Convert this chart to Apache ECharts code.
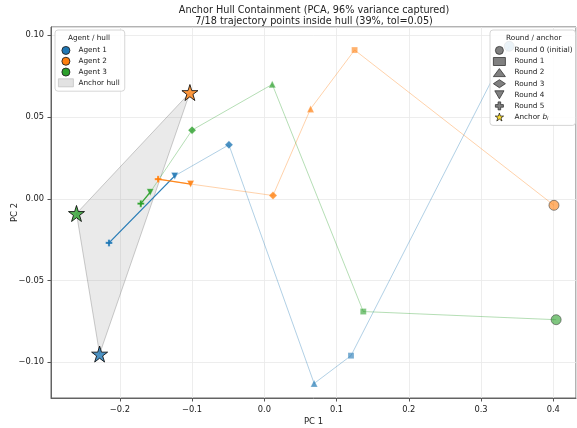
<!DOCTYPE html>
<html>
<head>
<meta charset="utf-8">
<script src="https://cdn.jsdelivr.net/npm/echarts@6/dist/echarts.min.js"></script>
<style>html,body{margin:0;padding:0;background:#fff}#c{width:577px;height:428px}</style>
</head>
<body>
<div id="c"></div>
<script>
// ---- data ----
const agentNames = ['Agent 1', 'Agent 2', 'Agent 3'];
const roundNames = ['Round 0 (initial)', 'Round 1', 'Round 2', 'Round 3', 'Round 4', 'Round 5'];
const agent1PC1 = [0.339, 0.120, 0.069, -0.049, -0.124, -0.215];
const agent1PC2 = [0.0933, -0.096, -0.113, 0.033, 0.014, -0.027];
const agent2PC1 = [0.401, 0.125, 0.064, 0.012, -0.102, -0.147];
const agent2PC2 = [-0.004, 0.091, 0.055, 0.002, 0.009, 0.012];
const agent3PC1 = [0.404, 0.137, 0.011, -0.100, -0.158, -0.171];
const agent3PC2 = [-0.074, -0.069, 0.070, 0.042, 0.004, -0.003];
const anchorPC1 = [-0.228, -0.103, -0.260];
const anchorPC2 = [-0.095, 0.065, -0.009];
const anchorName = 'Anchor b_i';
const hullName = 'Anchor hull';
const titleLines = ['Anchor Hull Containment (PCA, 96% variance captured)', '7/18 trajectory points inside hull (39%, tol=0.05)'];

// ---- styling ----
const FONT = 'DejaVu Sans';
const agentColors = ['#1f77b4', '#ff7f0e', '#2ca02c'];
const agentRGB = ['31,119,180', '255,127,14', '44,160,44'];
const STAR = 'path://M50,0 L61.23,34.55 L97.55,34.55 L68.16,55.9 L79.39,90.45 L50,69.1 L20.61,90.45 L31.84,55.9 L2.45,34.55 L38.77,34.55 Z';
const PLUS = 'path://M34,0 H66 V34 H100 V66 H66 V100 H34 V66 H0 V34 H34 Z';
const TRIDOWN = 'path://M0,0 L100,0 L50,87 Z';
const roundSymbols = ['circle', 'rect', 'triangle', 'diamond', TRIDOWN, PLUS];
const roundSizes = [10, 6, 7, 8, 7, 7];
const roundOpacity = [0.6, 0.6, 0.7, 0.8, 0.9, 1.0];

const xs = [agent1PC1, agent2PC1, agent3PC1];
const ys = [agent1PC2, agent2PC2, agent3PC2];
const fmt = (v, d) => v.toFixed(d).replace('-', '\u2212');

const series = [];
// hull polygon
series.push({
  name: hullName, type: 'custom', z: 1,
  data: anchorPC1.map((x, i) => [x, anchorPC2[i]]),
  renderItem: function (params, api) {
    if (params.dataIndex !== 0) return null;
    const pts = anchorPC1.map((x, i) => api.coord([x, anchorPC2[i]]));
    return { type: 'polygon', shape: { points: pts },
      style: { fill: 'rgba(150,150,150,0.2)', stroke: 'rgba(128,128,128,0.4)', lineWidth: 1 } };
  }
});
// trajectories
for (let a = 0; a < 3; a++) {
  const pts = xs[a].map((x, r) => [x, ys[a][r]]);
  series.push({
    name: agentNames[a], type: 'line', z: 2, symbol: 'none', silent: true,
    data: pts,
    lineStyle: { color: 'rgba(' + agentRGB[a] + ',0.35)', width: 1 },
    itemStyle: { color: agentColors[a] },
    markLine: {
      silent: true, symbol: ['none', 'arrow'], symbolSize: [0, 6],
      lineStyle: { color: agentColors[a], width: 1.3, type: 'solid', opacity: 0.9 },
      label: { show: false },
      data: [[{ coord: pts[4] }, { coord: pts[5] }]]
    }
  });
}
// round markers
for (let r = 0; r < roundNames.length; r++) {
  series.push({
    name: roundNames[r], type: 'scatter', z: 3,
    symbol: roundSymbols[r], symbolSize: roundSizes[r],
    itemStyle: { opacity: roundOpacity[r],
      borderColor: r === 0 ? '#444' : 'rgba(255,255,255,0.7)', borderWidth: r === 0 ? 1 : 0.5 },
    data: [0, 1, 2].map(a => ({ value: [xs[a][r], ys[a][r]], itemStyle: { color: agentColors[a] } }))
  });
}
// anchors
series.push({
  name: anchorName, type: 'scatter', z: 4, symbol: STAR, symbolSize: 16,
  itemStyle: { borderColor: '#000', borderWidth: 1 },
  data: anchorPC1.map((x, a) => ({ value: [x, anchorPC2[a]], itemStyle: { color: agentColors[a] } }))
});

const legendBox = {
  orient: 'vertical', backgroundColor: 'rgba(255,255,255,0.85)', borderColor: '#cccccc',
  borderWidth: 0.8, borderRadius: 3, itemHeight: 8, selectedMode: false,
  textStyle: { fontFamily: FONT, fontSize: 7.3, color: '#222', lineHeight: 8 }
};

const option = {
  animation: false,
  backgroundColor: '#fff',
  title: {
    text: titleLines.join('\n'), left: 314, top: 5, padding: 0, textAlign: 'center',
    textStyle: { fontFamily: FONT, fontSize: 9.7, fontWeight: 'normal', color: '#222', lineHeight: 11.3 }
  },
  grid: { left: 51, top: 27, right: 1, bottom: 30, show: true, borderColor: '#555', borderWidth: 0.9,
    containLabel: false, outerBoundsMode: 'none' },
  xAxis: {
    type: 'value', min: -0.2953, max: 0.4315, minInterval: 0.1, maxInterval: 0.1, splitNumber: 7,
    name: 'PC 1', nameLocation: 'middle', nameGap: 19, nameMoveOverlap: false,
    nameTextStyle: { fontFamily: FONT, fontSize: 8.5, color: '#222' },
    axisLine: { show: true, onZero: false, lineStyle: { color: '#555', width: 0.9 } },
    axisTick: { show: true, inside: false, length: 3.5, lineStyle: { color: '#555' } },
    axisLabel: { showMinLabel: false, showMaxLabel: false, margin: 7.5, fontFamily: FONT, fontSize: 8.3, color: '#222', formatter: v => fmt(v, 1) },
    splitLine: { show: true, lineStyle: { color: '#e8e8e8', width: 0.8 } }
  },
  yAxis: {
    type: 'value', min: -0.1219, max: 0.1051, minInterval: 0.05, maxInterval: 0.05, splitNumber: 5,
    name: 'PC 2', nameLocation: 'middle', nameGap: 32, nameMoveOverlap: false,
    nameTextStyle: { fontFamily: FONT, fontSize: 8.5, color: '#222' },
    axisLine: { show: true, onZero: false, lineStyle: { color: '#555', width: 0.9 } },
    axisTick: { show: true, inside: false, length: 3.5, lineStyle: { color: '#555' } },
    axisLabel: { showMinLabel: false, showMaxLabel: false, margin: 7, fontFamily: FONT, fontSize: 8.3, color: '#222', formatter: v => fmt(v, 2) },
    splitLine: { show: true, lineStyle: { color: '#e8e8e8', width: 0.8 } }
  },
  legend: [
    Object.assign({}, legendBox, {
      left: 55, top: 30, padding: [16, 5, 4, 3], itemWidth: 15, itemGap: 1.9,
      data: agentNames.map((n, a) => ({ name: n, icon: 'circle',
        itemStyle: { color: agentColors[a], borderColor: '#222', borderWidth: 0.9, opacity: 1 } }))
        .concat([{ name: hullName, icon: 'rect', itemStyle: { color: '#e2e2e2', borderColor: '#c4c4c4', borderWidth: 0.8 } }])
    }),
    Object.assign({}, legendBox, {
      left: 490, top: 30, padding: [16, 3, 4, 3], itemWidth: 12, itemGap: 2.3,
      formatter: function (name) { return name === anchorName ? 'Anchor {it|b}{sub|i}' : name; },
      textStyle: Object.assign({}, legendBox.textStyle, {
        padding: [0, 0, 0, 4],
        rich: { it: { fontFamily: FONT, fontSize: 7.3, fontStyle: 'italic', color: '#222' },
                sub: { fontFamily: FONT, fontSize: 5, fontStyle: 'italic', color: '#222', padding: [3, 0, 0, 0] } }
      }),
      data: roundNames.map((n, r) => ({ name: n, icon: roundSymbols[r],
        itemStyle: { color: '#808080', borderColor: '#333', borderWidth: 0.8, opacity: 1 } }))
        .concat([{ name: anchorName, icon: STAR, itemStyle: { color: '#FFD700', borderColor: '#000', borderWidth: 0.8 } }])
    })
  ],
  graphic: [
    { type: 'text', z: 100, left: 68, top: 34.5, style: { text: 'Agent / hull', font: '7.3px "DejaVu Sans"', fill: '#222' } },
    { type: 'text', z: 100, left: 506, top: 34.5, style: { text: 'Round / anchor', font: '7.3px "DejaVu Sans"', fill: '#222' } }
  ],
  series: series
};
const chart = echarts.init(document.getElementById('c'), null, { renderer: 'canvas' });
chart.setOption(option);
</script>
</body>
</html>
